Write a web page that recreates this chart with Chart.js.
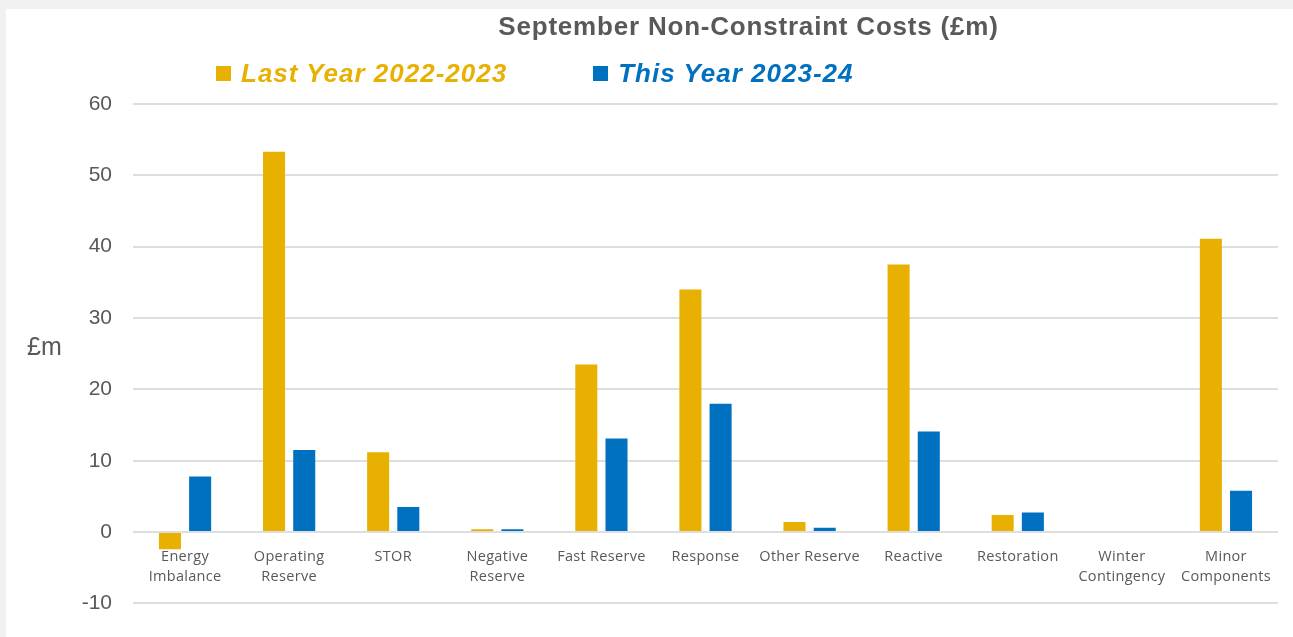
<!DOCTYPE html>
<html>
<head>
<meta charset="utf-8">
<script src="https://cdn.jsdelivr.net/npm/chart.js@4/dist/chart.umd.min.js"></script>
<style>
  html, body { margin: 0; padding: 0; background: #f1f1f1; }
  #panel { position: absolute; left: 6px; top: 9px; right: 0; bottom: 0; background: #fff; }
  #wrap { position: absolute; left: 0; top: 0; width: 1293px; height: 637px; }
  #title { position: absolute; left: 0; top: 11px; width: 1497px; text-align: center;
           font: bold 26px "Liberation Sans", Arial, sans-serif; letter-spacing: 0.8px; color: #595959; }
  #legend { position: absolute; left: 216px; top: 57px; white-space: nowrap;
            font: italic bold 26px "Liberation Sans", Arial, sans-serif; letter-spacing: 1px; }
  #legend span.item { display: inline-flex; align-items: center; margin-right: 86px; }
  #legend span.box { display: inline-block; width: 15px; height: 15px; margin-right: 10px; }
  #ylabel { position: absolute; left: 27px; top: 332px;
            font: 25px "Liberation Sans", Arial, sans-serif; color: #595959; }
</style>
</head>
<body>
<div id="panel"></div>
<div id="wrap"><canvas id="costChart" width="1293" height="637"></canvas></div>
<div id="title">September Non-Constraint Costs (£m)</div>
<div id="legend"></div>
<div id="ylabel">£m</div>
<script>
// categories and values (£m)
var categories = [
  ['Energy', 'Imbalance'],
  ['Operating', 'Reserve'],
  'STOR',
  ['Negative', 'Reserve'],
  'Fast Reserve',
  'Response',
  'Other Reserve',
  'Reactive',
  'Restoration',
  ['Winter', 'Contingency'],
  ['Minor', 'Components']
];
var lastYear = [-2.4, 53.3, 11.2, 0.4, 23.5, 34.0, 1.4, 37.5, 2.4, 0, 41.1];
var thisYear = [7.8, 11.5, 3.5, 0.4, 13.1, 18.0, 0.6, 14.1, 2.75, 0, 5.8];
var seriesNames = ['Last Year 2022-2023', 'This Year 2023-24'];
var seriesColors = ['#e8b000', '#0070c0'];
var yTicks = [-10, 0, 10, 20, 30, 40, 50, 60];

// category labels sit just under the zero line, not at the bottom of the axis
var zeroLineLabels = {
  id: 'zeroLineLabels',
  afterDraw: function (chart) {
    var ctx = chart.ctx;
    var xs = chart.scales.x;
    var y0 = chart.scales.y.getPixelForValue(0);
    ctx.save();
    ctx.font = '14.5px "Open Sans", "DejaVu Sans", sans-serif';
    ctx.letterSpacing = '0.3px';
    ctx.fillStyle = '#595959';
    ctx.textAlign = 'center';
    ctx.textBaseline = 'middle';
    chart.data.labels.forEach(function (label, i) {
      var lines = Array.isArray(label) ? label : [label];
      var x = xs.getPixelForValue(i);
      lines.forEach(function (line, j) {
        ctx.fillText(line, x, y0 + 25 + j * 20);
      });
    });
    ctx.restore();
  }
};

var datasets = [lastYear, thisYear].map(function (values, i) {
  return {
    label: seriesNames[i],
    data: values,
    backgroundColor: seriesColors[i],
    categoryPercentage: 0.58,
    barPercentage: 0.73
  };
});

var chart = new Chart(document.getElementById('costChart').getContext('2d'), {
  type: 'bar',
  data: { labels: categories, datasets: datasets },
  options: {
    responsive: false,
    animation: false,
    layout: { padding: { left: 0, top: 104, right: 15, bottom: 33 } },
    plugins: {
      legend: { display: false },
      tooltip: { enabled: false }
    },
    scales: {
      x: {
        grid: { display: false },
        border: { display: false },
        ticks: { display: false },
        afterFit: function (scale) { scale.height = 0; }
      },
      y: {
        min: -10,
        max: 60,
        afterBuildTicks: function (scale) {
          scale.ticks = yTicks.map(function (v) { return { value: v }; });
        },
        afterFit: function (scale) { scale.width = 133; },
        grid: { color: '#dedede', lineWidth: 2, drawTicks: false },
        border: { display: false },
        ticks: {
          padding: 21,
          color: '#595959',
          font: { family: '"Liberation Sans", Arial, sans-serif', size: 21 }
        }
      }
    }
  },
  plugins: [zeroLineLabels]
});

// legend built from the datasets
var legend = document.getElementById('legend');
chart.data.datasets.forEach(function (ds) {
  var item = document.createElement('span');
  item.className = 'item';
  item.style.color = ds.backgroundColor;
  var box = document.createElement('span');
  box.className = 'box';
  box.style.background = ds.backgroundColor;
  item.appendChild(box);
  item.appendChild(document.createTextNode(ds.label));
  legend.appendChild(item);
});
</script>
</body>
</html>
